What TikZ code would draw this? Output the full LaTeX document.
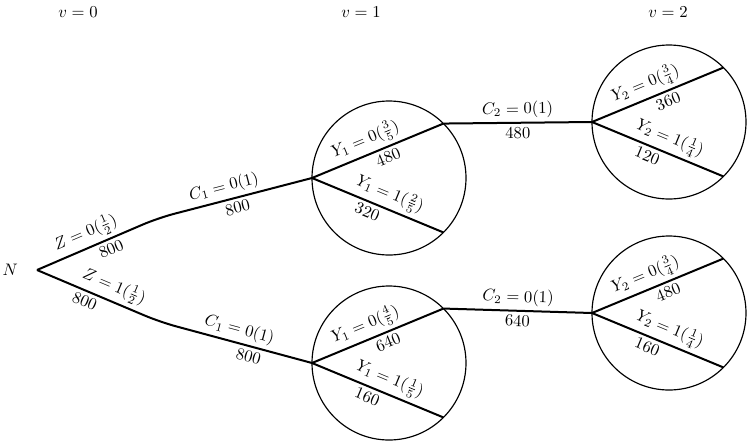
\documentclass[tikz,border=0pt]{standalone}
\usepackage{amsmath,amssymb}
\usepackage{tikz}
\usetikzlibrary{positioning,calc}

\begin{document}
\begin{tikzpicture}[x=0.6pt,y=-0.6pt,
  branch/.style={line width=1.2pt,line join=round},
  stage/.style={circle,draw,line width=0.7pt,minimum size=92.4pt,inner sep=0pt,outer sep=0pt},
  lab/.style={sloped,inner sep=2.2pt}]
  \useasboundingbox (0,0) rectangle (749,444);
  % stage headings
  \node (h0) at (78,12) {$v=0$};
  \node (h1) at (361,12) {$v=1$};
  \node (h2) at (668,12) {$v=2$};
  % root, bends and circles
  \coordinate (root) at (37,270);
  \node[left=8pt of root] (N) {$N$};
  \coordinate (bu) at (158,218);
  \coordinate (bl) at (160,322);
  \node[stage] (s1u) at (389,178) {};
  \node[stage] (s1l) at (389,363) {};
  \node[stage] (s2u) at (669,122) {};
  \node[stage] (s2l) at (669,313) {};
  % first split
  \draw[branch,rounded corners=10pt] (root)
    -- node[lab,above,pos=.45] {$Z=0(\frac12)$} node[lab,below,pos=.58] {$800$} (bu)
    -- node[lab,above,pos=.45] {$C_1=0(1)$} node[lab,below,pos=.5] {$800$} (s1u.west);
  \draw[branch,rounded corners=10pt] (root)
    -- node[lab,above,pos=.58] {$Z=1(\frac12)$} node[lab,below,pos=.42] {$800$} (bl)
    -- node[lab,above,pos=.5] {$C_1=0(1)$} node[lab,below,pos=.6] {$800$} (s1l.west);
  % v=1
  \draw[branch] (s1u.west) -- node[lab,above,pos=.45] {$Y_1=0(\frac35)$} node[lab,below,pos=.55] {$480$} (s1u.45);
  \draw[branch] (s1u.west) -- node[lab,above,pos=.55] {$Y_1=1(\frac25)$} node[lab,below,pos=.45] {$320$} (s1u.-45);
  \draw[branch] (s1l.west) -- node[lab,above,pos=.45] {$Y_1=0(\frac45)$} node[lab,below,pos=.55] {$640$} (s1l.45);
  \draw[branch] (s1l.west) -- node[lab,above,pos=.55] {$Y_1=1(\frac15)$} node[lab,below,pos=.45] {$160$} (s1l.-45);
  % to v=2
  \draw[branch] (s1u.45) -- node[lab,above] {$C_2=0(1)$} node[lab,below] {$480$} (s2u.west);
  \draw[branch] (s1l.45) -- node[lab,above] {$C_2=0(1)$} node[lab,below] {$640$} (s2l.west);
  % v=2
  \draw[branch] (s2u.west) -- node[lab,above,pos=.45] {$Y_2=0(\frac34)$} node[lab,below,pos=.55] {$360$} (s2u.45);
  \draw[branch] (s2u.west) -- node[lab,above,pos=.55] {$Y_2=1(\frac14)$} node[lab,below,pos=.45] {$120$} (s2u.-45);
  \draw[branch] (s2l.west) -- node[lab,above,pos=.45] {$Y_2=0(\frac34)$} node[lab,below,pos=.55] {$480$} (s2l.45);
  \draw[branch] (s2l.west) -- node[lab,above,pos=.55] {$Y_2=1(\frac14)$} node[lab,below,pos=.45] {$160$} (s2l.-45);
\end{tikzpicture}
\end{document}
